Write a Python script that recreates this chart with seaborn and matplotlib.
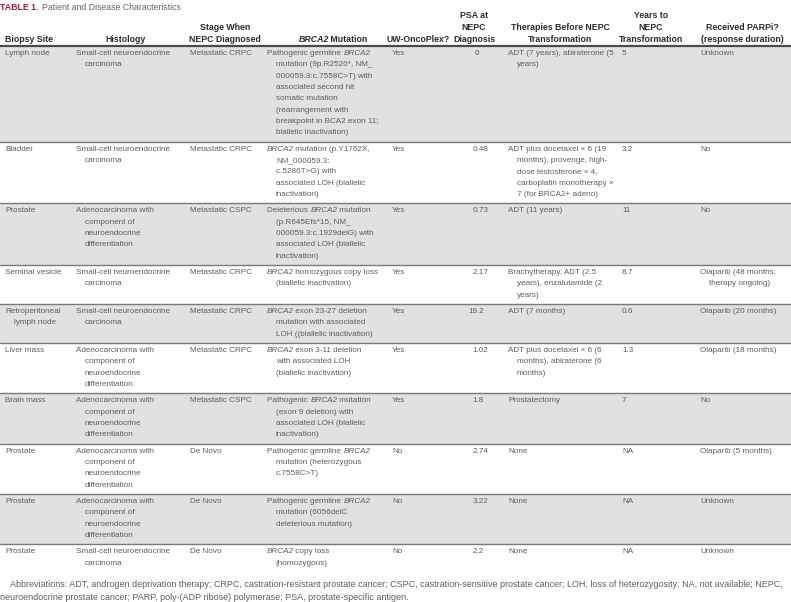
import re
import matplotlib
matplotlib.use("Agg")
import matplotlib.pyplot as plt
import seaborn as sns
from matplotlib import font_manager

# ---- table content ----
title_tag = "TABLE 1."
title_text = "Patient and Disease Characteristics"

headers = [
    "Biopsy Site",
    "Histology",
    "Stage When\nNEPC Diagnosed",
    "{BRCA2} Mutation",
    "UW-OncoPlex?",
    "PSA at\nNEPC\nDiagnosis",
    "Therapies Before NEPC\nTransformation",
    "Years to\nNEPC\nTransformation",
    "Received PARPi?\n(response duration)",
]

biopsy_site = [
    "Lymph node", "Bladder", "Prostate", "Seminal vesicle",
    "Retroperitoneal\nlymph node", "Liver mass", "Brain mass",
    "Prostate", "Prostate", "Prostate",
]

histology = [
    "Small-cell neuroendocrine\ncarcinoma",
    "Small-cell neuroendocrine\ncarcinoma",
    "Adenocarcinoma with\ncomponent of\nneuroendocrine\ndifferentiation",
    "Small-cell neuroendocrine\ncarcinoma",
    "Small-cell neuroendocrine\ncarcinoma",
    "Adenocarcinoma with\ncomponent of\nneuroendocrine\ndifferentiation",
    "Adenocarcinoma with\ncomponent of\nneuroendocrine\ndifferentiation",
    "Adenocarcinoma with\ncomponent of\nneuroendocrine\ndifferentiation",
    "Adenocarcinoma with\ncomponent of\nneuroendocrine\ndifferentiation",
    "Small-cell neuroendocrine\ncarcinoma",
]

stage = [
    "Metastatic CRPC", "Metastatic CRPC", "Metastatic CSPC", "Metastatic CRPC",
    "Metastatic CRPC", "Metastatic CRPC", "Metastatic CSPC",
    "De Novo", "De Novo", "De Novo",
]

brca2_mutation = [
    "Pathogenic germline {BRCA2}\nmutation (9p.R2520*, NM_\n000059.3:c.7558C>T) with\n"
    "associated second hit\nsomatic mutation\n(rearrangement with\n"
    "breakpoint in BCA2 exon 11;\nbiallelic inactivation)",
    "{BRCA2} mutation (p.Y1762X,\nNM_000059.3:\nc.5286T>G) with\n"
    "associated LOH (biallelic\ninactivation)",
    "Deleterious {BRCA2} mutation\n(p.R645Efs*15, NM_\n000059.3:c.1929delG) with\n"
    "associated LOH (biallelic\ninactivation)",
    "{BRCA2} homozygous copy loss\n(biallelic inactivation)",
    "{BRCA2} exon 23-27 deletion\nmutation with associated\nLOH ((biallelic inactivation)",
    "{BRCA2} exon 3-11 deletion\nwith associated LOH\n(biallelic inactivation)",
    "Pathogenic {BRCA2} mutation\n(exon 9 deletion) with\nassociated LOH (biallelic\ninactivation)",
    "Pathogenic germline {BRCA2}\nmutation (heterozygous\nc.7558C>T)",
    "Pathogenic germline {BRCA2}\nmutation (6056delC\ndeleterious mutation)",
    "{BRCA2} copy loss\n(homozygous)",
]

uw_oncoplex = ["Yes", "Yes", "Yes", "Yes", "Yes", "Yes", "Yes", "No", "No", "No"]

psa = ["0", "0.48", "0.73", "2.17", "19.2", "1.02", "1.8", "2.74", "3.22", "2.2"]

therapies = [
    "ADT (7 years), abiraterone (5\nyears)",
    "ADT plus docetaxel \u00d7 6 (19\nmonths), provenge, high-\ndose testosterone \u00d7 4,\n"
    "carboplatin monotherapy \u00d7\n7 (for BRCA2+ adeno)",
    "ADT (11 years)",
    "Brachytherapy, ADT (2.5\nyears), enzalutamide (2\nyears)",
    "ADT (7 months)",
    "ADT plus docetaxel \u00d7 6 (6\nmonths), abiraterone (6\nmonths)",
    "Prostatectomy",
    "None", "None", "None",
]

years_to_nepc = ["5", "3.2", "11", "8.7", "0.6", "1.3", "7", "NA", "NA", "NA"]

parpi = [
    "Unknown", "No", "No", "Olaparib (48 months,\ntherapy ongoing)",
    "Olaparib (20 months)", "Olaparib (18 months)", "No",
    "Olaparib (5 months)", "Unknown", "Unknown",
]

footnote = [
    "Abbreviations: ADT, androgen deprivation therapy; CRPC, castration-resistant prostate cancer; "
    "CSPC, castration-sensitive prostate cancer; LOH, loss of heterozygosity; NA, not available; NEPC,",
    "neuroendocrine prostate cancer; PARP, poly-(ADP ribose) polymerase; PSA, prostate-specific antigen.",
]

columns = [biopsy_site, histology, stage, brca2_mutation, uw_oncoplex,
           psa, therapies, years_to_nepc, parpi]

# ---- style ----
sns.set_theme(style="white")
available = {f.name for f in font_manager.fontManager.ttflist}
if "Liberation Sans Narrow" in available:
    body_font, scale = "Liberation Sans Narrow", 1.0
else:
    body_font, scale = "Liberation Sans", 0.84
fam = [body_font, "DejaVu Sans"]
plt.rcParams["font.family"] = fam
body_size = 7.0 * scale
head_size = 7.5 * scale
note_size = 7.75 * scale

text_color = "#5e5e5e"
head_color = "#2a2a2a"
band_color = "#e1e0e2"
rule_color = "#7a7a7a"

W, H = 791, 602
fig = plt.figure(figsize=(W / 100, H / 100), dpi=100)
ax = fig.add_axes([0, 0, 1, 1])
ax.set_xlim(0, W)
ax.set_ylim(H, 0)
ax.axis("off")
renderer = fig.canvas.get_renderer()

col_x = [5, 76, 190, 267, 392, 477, 508, 622, 700]
head_cx = [5, 125, 225, 333, 418, 474, 560, 651, 742]
indent = 9
line_h = 11.33
pad = 5
header_bottom = 46


def width_of(s, **kw):
    t = ax.text(0, 0, "x" + s + "x", **kw)
    w1 = t.get_window_extent(renderer).width
    t.remove()
    t = ax.text(0, 0, "xx", **kw)
    w0 = t.get_window_extent(renderer).width
    t.remove()
    return w1 - w0


def draw_rich(x, y, line, ha="left", **kw):
    pieces = []
    for p in re.split(r"(\{[^}]*\})", line):
        if p:
            pieces.append((p.strip("{}"), p.startswith("{")))
    widths = []
    for n, (s, it) in enumerate(pieces):
        w = width_of(s, fontstyle="italic" if it else "normal", **kw)
        if it and n == 0:
            w -= 1.2
        widths.append(w)
    total = sum(widths)
    x0 = x - total / 2 if ha == "center" else x
    for n, ((s, it), w) in enumerate(zip(pieces, widths)):
        shift = 1.0 if (it and n > 0) else 0.0
        ax.text(x0 + shift, y, s, ha="left", va="baseline",
                fontstyle="italic" if it else "normal", **kw)
        x0 += w


body_kw = dict(fontsize=body_size, color=text_color, family=fam)
head_kw = dict(fontsize=head_size, color=head_color, fontweight="bold", family=fam)

# title
t = ax.text(0, 10, title_tag, fontsize=head_size, fontweight="bold",
            color="#a01d36", va="baseline", family=fam)
tw = t.get_window_extent(renderer).width
ax.text(tw + 4, 10, title_text, fontsize=head_size, color="#666666",
        va="baseline", family=fam)

# header
for j, h in enumerate(headers):
    lines = h.split("\n")
    for k, ln in enumerate(lines):
        yb = header_bottom - 4 - (len(lines) - 1 - k) * 12
        draw_rich(head_cx[j], yb, ln, ha="left" if j == 0 else "center", **head_kw)

# rows
n_rows = len(biopsy_site)
top = header_bottom
for i in range(n_rows):
    n_lines = max(len(col[i].split("\n")) for col in columns)
    h = n_lines * line_h + pad
    if i % 2 == 0:
        ax.axhspan(top, top + h, color=band_color, lw=0, zorder=0)
    if i > 0:
        ax.axhline(top, color=rule_color, lw=1.0, zorder=1)
    for j, col in enumerate(columns):
        for k, ln in enumerate(col[i].split("\n")):
            yb = top + 9 + k * line_h
            if j == 5:
                ip, dot, dp = ln.partition(".")
                if dot:
                    x0 = col_x[j] - width_of(ip, **body_kw)
                else:
                    x0 = col_x[j] - width_of(ip, **body_kw) / 2
                ax.text(x0, yb, ln, ha="left", va="baseline", **body_kw)
            else:
                draw_rich(col_x[j] + (indent if k else 0), yb, ln, **body_kw)
    top += h

ax.axhline(header_bottom, color="#4a4a4a", lw=1.6, zorder=2)

# footnote
note_kw = dict(fontsize=note_size, color=text_color, family=fam)
ax.text(10, 587, footnote[0], va="baseline", **note_kw)
ax.text(0, 600, footnote[1], va="baseline", **note_kw)

fig.savefig("out.png", dpi=100)
